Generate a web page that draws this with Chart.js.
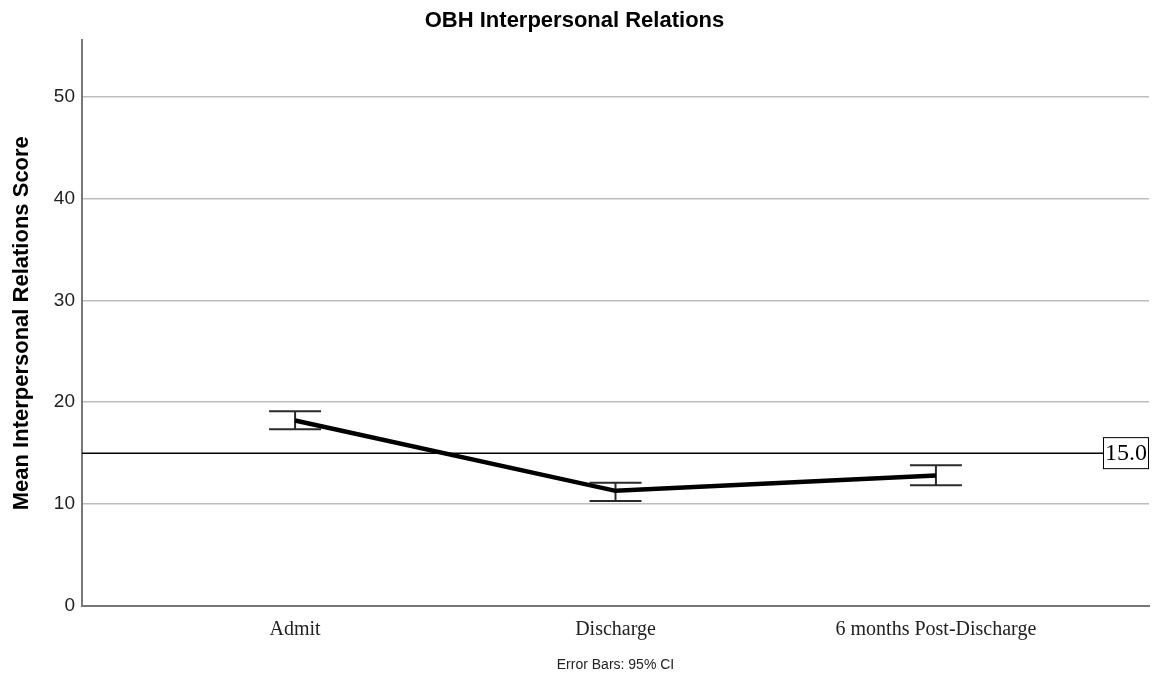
<!DOCTYPE html>
<html><head><meta charset="utf-8">
<script src="https://cdn.jsdelivr.net/npm/chart.js@4.4.1/dist/chart.umd.min.js"></script>
<style>html,body{margin:0;padding:0;background:#fff;} #wrap{width:1155px;height:679px;position:relative;}</style>
</head><body><div id="wrap"><canvas id="c"></canvas></div>
<script>
const categories = ['Admit', 'Discharge', '6 months Post-Discharge'];
const means = [18.2, 11.3, 12.8];
const ciLower = [17.35, 10.3, 11.85];
const ciUpper = [19.1, 12.1, 13.8];
const yTicks = [0, 10, 20, 30, 40, 50];
const referenceValue = 15;
const referenceLabel = '15.0';
const chartTitle = 'OBH Interpersonal Relations';
const yTitle = 'Mean Interpersonal Relations Score';
const footerText = 'Error Bars: 95% CI';

const overlay = {
  id: 'overlay',
  beforeDatasetsDraw(chart) {
    const {ctx, chartArea, scales: {x, y}} = chart;
    ctx.save();
    const ry = y.getPixelForValue(referenceValue);
    ctx.strokeStyle = '#000';
    ctx.lineWidth = 1.5;
    ctx.beginPath();
    ctx.moveTo(chartArea.left, ry);
    ctx.lineTo(chartArea.right - 46, ry);
    ctx.stroke();
    ctx.strokeStyle = '#2a2a2a';
    ctx.lineWidth = 2;
    const half = 26;
    categories.forEach((c, i) => {
      const px = x.getPixelForValue(i);
      const top = y.getPixelForValue(ciUpper[i]);
      const bot = y.getPixelForValue(ciLower[i]);
      ctx.beginPath();
      ctx.moveTo(px, top); ctx.lineTo(px, bot);
      ctx.moveTo(px - half, top); ctx.lineTo(px + half, top);
      ctx.moveTo(px - half, bot); ctx.lineTo(px + half, bot);
      ctx.stroke();
    });
    ctx.restore();
  },
  afterDatasetsDraw(chart) {
    const {ctx, chartArea, scales: {y}} = chart;
    const ry = y.getPixelForValue(referenceValue);
    ctx.save();
    const w = 46, h = 32;
    const bx = chartArea.right - w, by = ry - h / 2;
    ctx.fillStyle = '#fff';
    ctx.fillRect(bx, by, w, h);
    ctx.strokeStyle = '#000';
    ctx.lineWidth = 1;
    ctx.strokeRect(bx + 0.5, by + 0.5, w - 1, h - 1);
    ctx.fillStyle = '#000';
    ctx.font = '24px "Liberation Serif"';
    ctx.textAlign = 'center';
    ctx.textBaseline = 'middle';
    ctx.fillText(referenceLabel, bx + w / 2, ry + 1);
    ctx.restore();
  }
};

new Chart(document.getElementById('c'), {
  type: 'line',
  data: {
    datasets: [{
      data: means.map((m, i) => ({x: i, y: m})),
      borderColor: '#000',
      borderWidth: 4.5,
      pointRadius: 0,
      tension: 0,
      fill: false
    }]
  },
  options: {
    responsive: true,
    maintainAspectRatio: false,
    animation: false,
    layout: {padding: {left: 0, right: 6, top: 0, bottom: 0}},
    plugins: {
      legend: {display: false},
      tooltip: {enabled: false},
      title: {
        display: true, text: chartTitle, color: '#000',
        font: {family: 'Liberation Sans', size: 22, weight: 'bold', lineHeight: 1.2},
        padding: {top: 8, bottom: 6}
      }
    },
    scales: {
      x: {
        type: 'linear', min: -0.665, max: 2.665,
        grid: {display: false},
        border: {display: true, color: '#777', width: 2},
        afterBuildTicks(s) { s.ticks = categories.map((c, i) => ({value: i})); },
        ticks: {
          callback: (v) => categories[v], color: '#222',
          font: {family: 'Liberation Serif', size: 20}, padding: 4,
          maxRotation: 0, autoSkip: false
        },
        title: {
          display: true, text: footerText, color: '#222',
          font: {family: 'Liberation Sans', size: 14, lineHeight: 1.2},
          padding: {top: 0, bottom: 5}
        },
        afterFit(s) { s.height = 73; }
      },
      y: {
        min: 0, max: 55.5,
        afterBuildTicks(s) { s.ticks = yTicks.map(v => ({value: v})); },
        grid: {color: '#bdbdbd', lineWidth: 1.5, drawTicks: false},
        border: {display: true, color: '#777', width: 2},
        ticks: {color: '#222', font: {family: 'Liberation Sans', size: 19}, padding: 7},
        title: {
          display: true, text: yTitle, color: '#000',
          font: {family: 'Liberation Sans', size: 22, weight: 'bold', lineHeight: 1.2},
          padding: {top: 9, bottom: 0}
        },
        afterFit(s) { s.width = 82; }
      }
    }
  },
  plugins: [overlay]
});
</script>
</body></html>
